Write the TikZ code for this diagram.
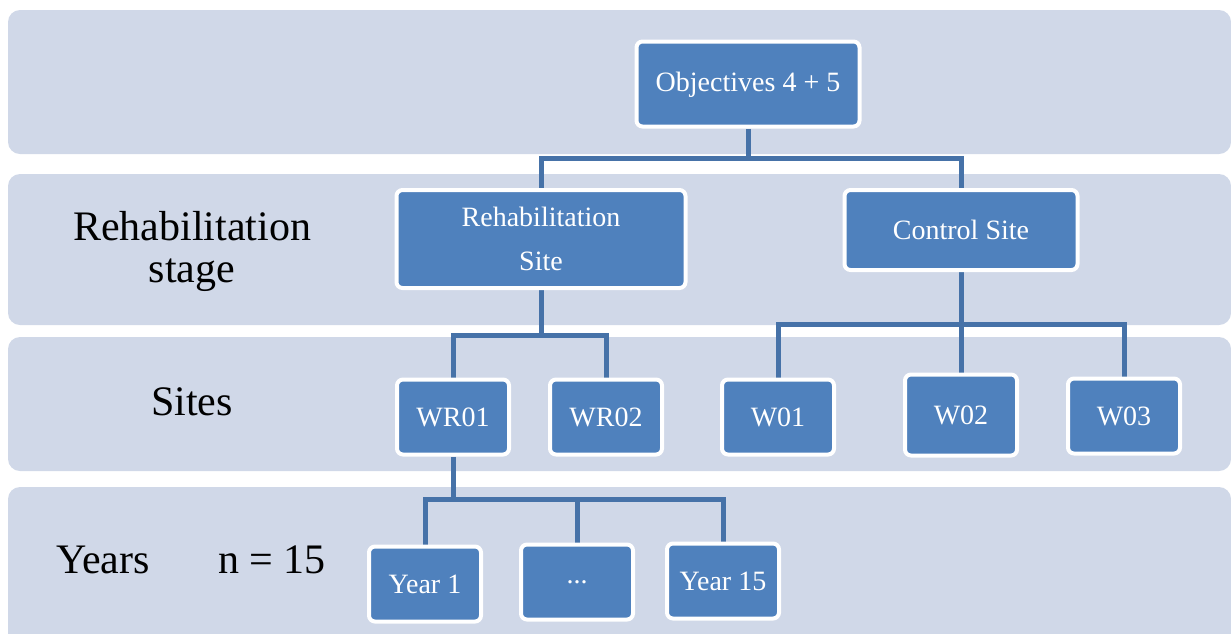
\documentclass[tikz,border=0pt]{standalone}
\usepackage{fontspec}
\setmainfont{Liberation Serif}
\usetikzlibrary{positioning}

\definecolor{bandblue}{RGB}{208,216,232}
\definecolor{boxblue}{RGB}{79,129,189}
\definecolor{lineblue}{RGB}{70,114,168}

\tikzstyle{band} = [fill=bandblue, rounded corners=12pt]
\tikzstyle{block} = [draw=white, line width=4pt, fill=boxblue, rectangle, text=white, align=center, inner sep=0pt, rounded corners=6pt, font=\fontsize{28}{44}\selectfont]
\tikzstyle{blockSmall} = [block, minimum width=112pt, minimum height=75pt]
\tikzstyle{stagetext} = [text=black, align=center, font=\fontsize{42}{42}\selectfont]
\tikzstyle{link} = [draw=lineblue, line width=5pt]

\pgfdeclarelayer{bands}
\pgfdeclarelayer{links}
\pgfsetlayers{bands,links,main}

\begin{document}
\begin{tikzpicture}[x=1pt, y=-1pt]
  \useasboundingbox (0,0) rectangle (1231,633);

  \begin{pgfonlayer}{bands}
    \fill [band] (8,10) rectangle (1231,154);
    \fill [band] (8,174) rectangle (1231,325);
    \fill [band] (8,337) rectangle (1231,471);
    \fill [band] (8,487) rectangle (1231,660);
  \end{pgfonlayer}

  % row labels
  \node [stagetext] (lblstage) at (192,251) {Rehabilitation\\stage};
  \node [stagetext, anchor=base] (lblsites) at (192,415) {Sites};
  \node [stagetext, anchor=base] (lblyears) at (103,573) {Years};
  \node [stagetext, anchor=base] (lbln) at (272,573) {n = 15};

  % tree
  \node [block, minimum width=223pt, minimum height=85pt, text depth=4pt] (obj) at (748,84) {Objectives 4 + 5};
  \node [block, minimum width=289pt, minimum height=98pt] (rehab) at (541,239) {Rehabilitation\\Site};
  \node [block, minimum width=233pt, minimum height=80pt] (ctrl) at (961,230) {Control Site};

  \node [blockSmall] (wr1) at (453,417) {WR01};
  \node [blockSmall] (wr2) at (606,417) {WR02};
  \node [blockSmall] (w1) at (778,417) {W01};
  \node [blockSmall, minimum height=81pt] (w2) at (961,415) {W02};
  \node [blockSmall] (w3) at (1124,416) {W03};

  \node [blockSmall] (y1) at (425,584) {Year 1};
  \node [blockSmall] (dots) at (577,582) {...};
  \node [blockSmall] (y15) at (723,581) {Year 15};

  \coordinate (j1) at (748,158);
  \coordinate (j2) at (541,335);
  \coordinate (j3) at (961,324);
  \coordinate (j4) at (453,499);

  \begin{pgfonlayer}{links}
    \draw [link] (obj.south) -- (j1);
    \draw [link] (rehab.north) |- (j1) -| (ctrl.north);
    \draw [link] (rehab.south) -- (j2);
    \draw [link] (wr1.north) |- (j2) -| (wr2.north);
    \draw [link] (ctrl.south) -- (j3);
    \draw [link] (w1.north) |- (j3) -| (w3.north);
    \draw [link] (j3) -- (w2.north);
    \draw [link] (wr1.south) -- (j4);
    \draw [link] (y1.north) |- (j4) -| (y15.north);
    \draw [link] (dots.north) -- (dots.north |- j4);
  \end{pgfonlayer}
\end{tikzpicture}
\end{document}
